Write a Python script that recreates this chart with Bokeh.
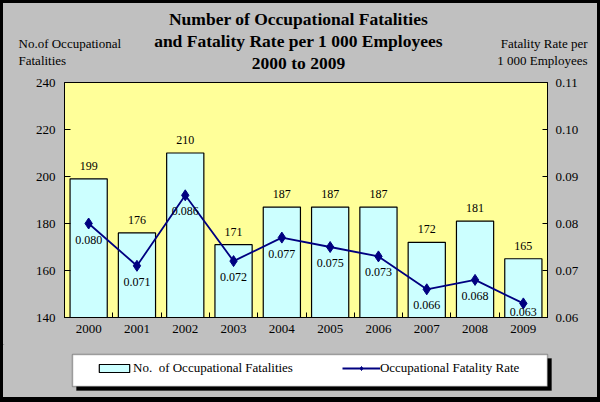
from bokeh.plotting import figure
from bokeh.layouts import column
from bokeh.models import (Range1d, LinearAxis, FixedTicker, ColumnDataSource, LabelSet,
                          Label, Legend, LegendItem, BoxAnnotation, NumeralTickFormatter)
from bokeh.embed import file_html
from bokeh.resources import INLINE

# ---- data ----
years = ["2000", "2001", "2002", "2003", "2004", "2005", "2006", "2007", "2008", "2009"]
fatalities = [199, 176, 210, 171, 187, 187, 187, 172, 181, 165]
rates = [0.080, 0.071, 0.086, 0.072, 0.077, 0.075, 0.073, 0.066, 0.068, 0.063]
left_ticks = [140, 160, 180, 200, 220, 240]
right_ticks = [0.06, 0.07, 0.08, 0.09, 0.10, 0.11]
title_lines = ["Number of Occupational Fatalities",
               "and Fatality Rate per 1 000 Employees",
               "2000 to 2009"]
left_title = ["No.of Occupational", "Fatalities"]
right_title = ["Fatality Rate per", "1 000 Employees"]
legend_labels = ["No.  of Occupational Fatalities", "Occupational Fatality Rate"]

FONT = "Liberation Serif"
BAR_FILL = "#CCFFFF"
PLOT_BG = "#FFFF99"
PAGE_BG = "#C0C0C0"
NAVY = "#000080"

W = 594
H_HEAD, H_MAIN, H_FOOT = 71, 270, 53
MB_TOP, MB_BOTTOM = 8, 27
FRAME_H = H_MAIN - MB_TOP - MB_BOTTOM


def bare_figure(h):
    f = figure(width=W, height=h, output_backend="svg", toolbar_location=None,
               x_range=Range1d(0, W), y_range=Range1d(h, 0),
               x_axis_location=None, y_axis_location=None,
               min_border=0, background_fill_color=PAGE_BG, border_fill_color=PAGE_BG)
    f.title = None
    f.frame_align = False
    f.outline_line_color = None
    f.xgrid.visible = False
    f.ygrid.visible = False
    return f


# ---------------- header ----------------
head = bare_figure(H_HEAD)
for txt, yy in zip(title_lines, [15.5, 37.5, 59.5]):
    head.add_layout(Label(x=295, y=yy, text=txt, text_align="center", text_baseline="middle",
                          text_font=FONT, text_font_size="17.5px", text_font_style="bold",
                          text_color="black"))
for txt, yy in zip(left_title, [40, 57]):
    head.add_layout(Label(x=15, y=yy, text=txt, text_align="left", text_baseline="middle",
                          text_font=FONT, text_font_size="13px", text_color="black"))
for txt, yy in zip(right_title, [40, 57]):
    head.add_layout(Label(x=584, y=yy, text=txt, text_align="right", text_baseline="middle",
                          text_font=FONT, text_font_size="13px", text_color="black"))

# ---------------- main chart ----------------
idx = list(range(len(years)))
lo, hi = right_ticks[0], right_ticks[-1]
rate_off = [-min(16.0, (r - lo) / (hi - lo) * FRAME_H - 6.0) for r in rates]
src = ColumnDataSource(dict(
    x=idx, n=fatalities, rate=rates,
    n_lbl=[str(v) for v in fatalities],
    r_lbl=[f"{r:.3f}" for r in rates],
    r_off=rate_off,
))

p = figure(width=W, height=H_MAIN, output_backend="svg", toolbar_location=None,
           x_range=Range1d(-0.5, len(years) - 0.5),
           y_range=Range1d(left_ticks[0], left_ticks[-1]),
           x_axis_location=None, y_axis_location=None,
           min_border_left=61, min_border_right=50, min_border_top=MB_TOP,
           min_border_bottom=MB_BOTTOM,
           background_fill_color=PLOT_BG, border_fill_color=PAGE_BG)
p.title = None
p.frame_align = False
p.outline_line_color = "black"
p.outline_line_width = 1
p.xgrid.visible = False
p.ygrid.visible = False
p.extra_y_ranges = {"rate": Range1d(lo, hi)}


def style_axis(ax):
    ax.axis_line_color = "black"
    ax.major_tick_line_color = "black"
    ax.minor_tick_line_color = "black"
    ax.major_label_text_font = FONT
    ax.major_label_text_font_size = "13px"
    ax.major_label_text_color = "black"


xaxis = LinearAxis(ticker=FixedTicker(ticks=idx, minor_ticks=[i - 0.5 for i in range(len(years) + 1)]),
                   major_label_overrides={i: y for i, y in zip(idx, years)},
                   major_tick_in=0, major_tick_out=0, minor_tick_in=5, minor_tick_out=0,
                   major_label_standoff=7)
style_axis(xaxis)
p.add_layout(xaxis, "below")

laxis = LinearAxis(ticker=FixedTicker(ticks=left_ticks), major_tick_in=6, major_tick_out=0,
                   minor_tick_in=0, minor_tick_out=0, major_label_standoff=9)
style_axis(laxis)
p.add_layout(laxis, "left")

raxis = LinearAxis(y_range_name="rate", ticker=FixedTicker(ticks=right_ticks),
                   formatter=NumeralTickFormatter(format="0.00"),
                   major_tick_in=5, major_tick_out=0, minor_tick_in=0, minor_tick_out=0,
                   major_label_standoff=8)
style_axis(raxis)
p.add_layout(raxis, "right")

bar_style = dict(fill_color=BAR_FILL, line_color="black", line_width=1.2)
line_style = dict(line_color=NAVY, line_width=1.8)
pt_style = dict(marker="diamond", fill_color=NAVY, line_color=NAVY)

p.vbar(x="x", top="n", bottom=left_ticks[0], width=0.77, source=src, **bar_style)
p.line(x="x", y="rate", source=src, y_range_name="rate", **line_style)
p.scatter(x="x", y="rate", source=src, y_range_name="rate", size=11, **pt_style)

p.add_layout(LabelSet(x="x", y="n", text="n_lbl", source=src, y_offset=13, text_align="center",
                      text_baseline="middle", text_font=FONT, text_font_size="12px",
                      text_color="black"))
p.add_layout(LabelSet(x="x", y="rate", text="r_lbl", source=src, y_range_name="rate",
                      y_offset="r_off", text_align="center", text_baseline="middle",
                      text_font=FONT, text_font_size="12px", text_color="black"))

# ---------------- footer with legend ----------------
foot = bare_figure(H_FOOT)
foot.add_layout(BoxAnnotation(left=73, right=548, top=14, bottom=46,
                              fill_color="black", fill_alpha=1, line_color="black"))
foot.add_layout(BoxAnnotation(left=69, right=544, top=10, bottom=42,
                              fill_color="white", fill_alpha=1, line_color="black", line_width=1.5))
# legend proxies (kept outside the visible range of the footer, only their swatches show)
proxy = ColumnDataSource(dict(x=[-50.0], y=[-50.0]))
lg_bar = foot.vbar(x="x", top="y", bottom="y", width=1, source=proxy, **bar_style)
lg_line = foot.line(x="x", y="y", source=proxy, **line_style)
lg_pts = foot.scatter(x="x", y="y", source=proxy, size=9, **pt_style)
legend = Legend(items=[LegendItem(label=legend_labels[0], renderers=[lg_bar]),
                       LegendItem(label=legend_labels[1], renderers=[lg_line, lg_pts])],
                orientation="horizontal", location=(84, 13), padding=8, margin=0,
                spacing=49, glyph_width=38, glyph_height=10, label_standoff=0,
                label_height=16, label_text_font=FONT, label_text_font_size="13px",
                label_text_color="black", border_line_alpha=0, background_fill_alpha=0)
foot.add_layout(legend)

layout = column(head, p, foot, spacing=0,
                styles={"border-style": "solid", "border-color": "black",
                        "border-width": "3px 3px 5px 3px", "background-color": PAGE_BG})

open("out.html", "w").write(file_html(layout, INLINE))
